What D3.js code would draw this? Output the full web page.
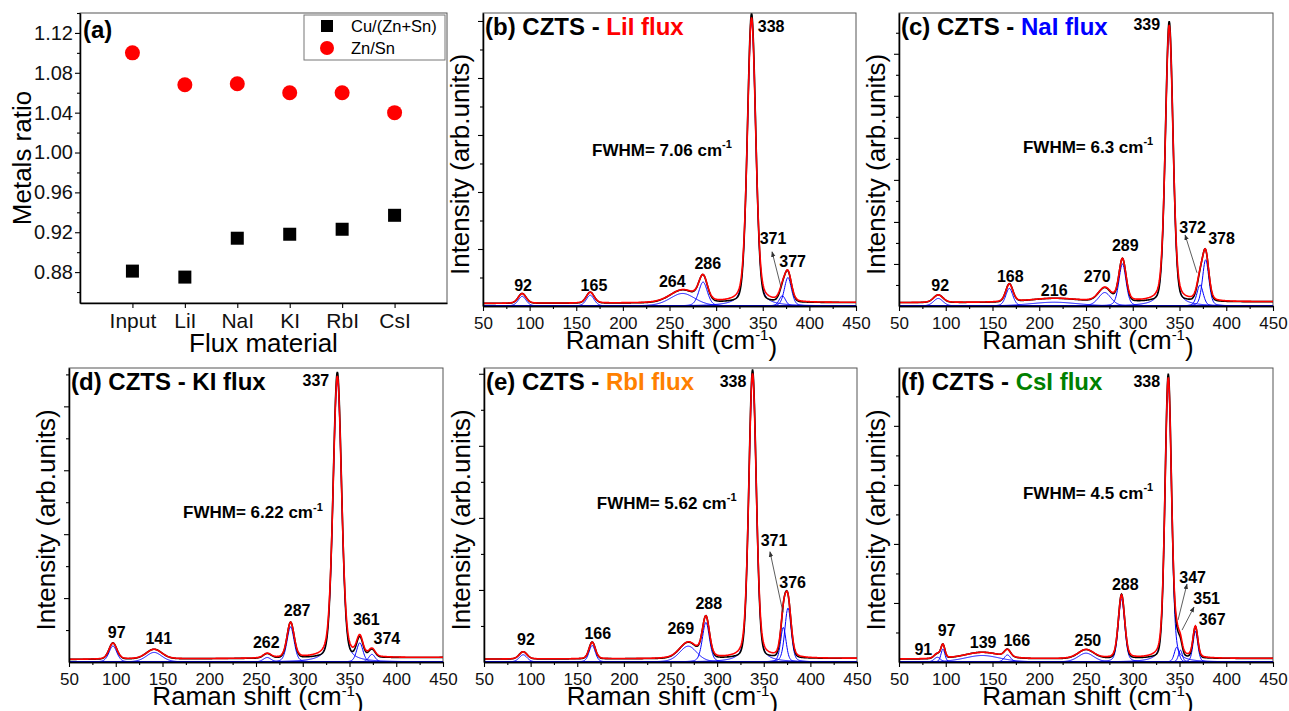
<!DOCTYPE html>
<html>
<head>
<meta charset="utf-8">
<script src="https://cdn.jsdelivr.net/npm/d3@7"></script>
<style>
  body { margin: 0; background: #fff; }
  svg { font-family: "Liberation Sans", Arial, sans-serif; }
</style>
</head>
<body>
<svg id="chart" width="1289" height="711"></svg>
<script>
// ---- (a) metal ratios ----
const categories = ['Input', 'LiI', 'NaI', 'KI', 'RbI', 'CsI']
const cuRatio = [0.881, 0.875, 0.914, 0.918, 0.923, 0.937]
const znRatio = [1.100, 1.068, 1.069, 1.060, 1.060, 1.040]
const ratioTicks = [0.88, 0.92, 0.96, 1.00, 1.04, 1.08, 1.12]

// ---- Raman fits: [centre (cm-1), height, width as drawn] ----
const peaksLiI = [[92, 0.17, 10], [165, 0.19, 10], [264, 0.22, 32], [286, 0.42, 11], [338, 5.0, 10.5], [371, 0.18, 8], [377, 0.5, 9]]
const peaksNaI = [[92, 0.18, 12], [168, 0.42, 9], [216, 0.09, 60], [270, 0.32, 16], [289, 1.0, 9], [339, 6.58, 9.6], [372, 0.5, 8], [378, 1.1, 8]]
const peaksKI = [[97, 0.25, 10], [141, 0.15, 20], [262, 0.07, 10], [287, 0.55, 9], [337, 4.41, 10.7], [361, 0.3, 8], [374, 0.12, 8]]
const peaksRbI = [[92, 0.10, 10], [166, 0.23, 8], [269, 0.22, 22], [288, 0.55, 9], [338, 3.95, 9.5], [371, 0.48, 7], [376, 0.75, 8]]
const peaksCsI = [[91, 0.08, 8], [97, 0.22, 5], [139, 0.11, 45], [166, 0.12, 8], [250, 0.15, 20], [288, 1.07, 8], [338, 4.75, 8.2], [347, 0.25, 6], [351, 0.2, 5], [367, 0.52, 6]]

// background offset at 50 and 450 cm-1
const baseLiI = [0.045, 0.06]
const baseNaI = [0.08, 0.10]
const baseKI = [0.04, 0.07]
const baseRbI = [0.04, 0.05]
const baseCsI = [0.05, 0.06]

// peak labels: [text, x (cm-1), y (intensity)]
const labelsLiI = [['92', 93, 0.37], ['165', 169, 0.37], ['264', 253, 0.44], ['286', 291, 0.74], ['338', 359, 4.91], ['371', 361, 1.18], ['377', 382, 0.79]]
const labelsNaI = [['92', 94, 0.5], ['168', 169, 0.71], ['216', 216, 0.36], ['270', 262, 0.71], ['289', 292, 1.43], ['339', 315, 6.69], ['372', 364, 1.88], ['378', 395, 1.6]]
const labelsKI = [['97', 101, 0.47], ['141', 146, 0.375], ['262', 261, 0.31], ['287', 294, 0.8], ['337', 314, 4.41], ['361', 368, 0.67], ['374', 390, 0.375]]
const labelsRbI = [['92', 95, 0.31], ['166', 172, 0.4], ['269', 261, 0.46], ['288', 291, 0.81], ['338', 317, 3.9], ['371', 361, 1.69], ['376', 381, 1.11]]
const labelsCsI = [['91', 76, 0.22], ['97', 101, 0.53], ['139', 140, 0.34], ['166', 176, 0.37], ['250', 252, 0.37], ['288', 292, 1.31], ['338', 315, 4.76], ['347', 364, 1.44], ['351', 379, 1.08], ['367', 385, 0.73]]

// pointer arrows: [x1, y1, x2, y2] in data units
const arrowsLiI = [[369.6, 0.33, 360, 0.95]]
const arrowsNaI = [[368.7, 0.79, 356, 1.69]]
const arrowsRbI = [[370.6, 0.69, 356.7, 1.53]]
const arrowsCsI = [[348.4, 0.71, 358, 1.32], [352.7, 0.54, 365.5, 0.93]]

const fwhmText = ['7.06', '6.3', '6.22', '5.62', '4.5']
const ramanTicks = [50, 100, 150, 200, 250, 300, 350, 400, 450]

const svg = d3.select('#chart')

svg.append('defs').append('marker')
    .attr('id', 'arrow')
    .attr('viewBox', '0 0 10 10')
    .attr('refX', 9).attr('refY', 5)
    .attr('markerWidth', 7).attr('markerHeight', 7)
    .attr('orient', 'auto')
    .append('path')
    .attr('d', 'M0,1 L10,5 L0,9 Z')
    .attr('fill', '#333')

function styleAxis(g, size) {
    g.selectAll('path').attr('stroke', '#000').attr('stroke-width', 1.3)
    g.selectAll('line').attr('stroke', '#000').attr('stroke-width', 1.1)
    g.selectAll('text').attr('font-size', size).attr('fill', '#111')
        .attr('font-family', '"Liberation Sans", Arial, sans-serif')
}

// ---------- panel (a) ----------
{
    const box = {l: 80, r: 447, t: 13, b: 303}
    const x = d3.scalePoint().domain(categories).range([box.l, box.r]).padding(1)
    const y = d3.scaleLinear().domain([0.849, 1.14]).range([box.b, box.t])

    svg.append('rect')
        .attr('x', box.l).attr('y', box.t)
        .attr('width', box.r - box.l).attr('height', box.b - box.t)
        .attr('fill', 'none').attr('stroke', '#555').attr('stroke-width', 1)

    const minor = ratioTicks.map(t => t + 0.02).concat([0.86])
    svg.append('g').attr('transform', `translate(${box.l},0)`)
        .call(d3.axisLeft(y).tickValues(minor).tickSize(3).tickFormat('').tickSizeOuter(0))
        .call(g => styleAxis(g, 20))
    svg.append('g').attr('transform', `translate(${box.l},0)`)
        .call(d3.axisLeft(y).tickValues(ratioTicks).tickSize(5).tickPadding(2).tickFormat(d3.format('.2f')).tickSizeOuter(0))
        .call(g => styleAxis(g, 20))
    svg.append('g').attr('transform', `translate(0,${box.b})`)
        .call(d3.axisBottom(x).tickSize(5).tickPadding(5).tickSizeOuter(0))
        .call(g => styleAxis(g, 21))

    svg.append('g').selectAll('rect')
        .data(cuRatio)
        .enter().append('rect')
        .attr('x', (d, i) => x(categories[i]) - 6.5)
        .attr('y', d => y(d) - 6.5)
        .attr('width', 13).attr('height', 13)
        .attr('fill', '#000')

    svg.append('g').selectAll('circle')
        .data(znRatio)
        .enter().append('circle')
        .attr('cx', (d, i) => x(categories[i]))
        .attr('cy', d => y(d))
        .attr('r', 7.5)
        .attr('fill', '#ff0000')

    svg.append('text').attr('x', 83).attr('y', 38)
        .attr('font-size', 24).attr('font-weight', 'bold').text('(a)')

    svg.append('text')
        .attr('x', (box.l + box.r) / 2).attr('y', box.b + 49)
        .attr('text-anchor', 'middle').attr('font-size', 26)
        .text('Flux material')

    svg.append('text')
        .attr('transform', `translate(31, ${(box.t + box.b) / 2}) rotate(-90)`)
        .attr('text-anchor', 'middle').attr('font-size', 26)
        .text('Metals ratio')

    // legend
    const lg = svg.append('g')
    lg.append('rect').attr('x', 304).attr('y', 15).attr('width', 141).attr('height', 45)
        .attr('fill', '#fff').attr('stroke', '#777').attr('stroke-width', 1)
    lg.append('rect').attr('x', 321).attr('y', 20).attr('width', 12).attr('height', 12).attr('fill', '#000')
    lg.append('circle').attr('cx', 327).attr('cy', 48).attr('r', 7).attr('fill', '#ff0000')
    lg.append('text').attr('x', 351).attr('y', 26).attr('dy', '0.35em').attr('font-size', 16.5).text('Cu/(Zn+Sn)')
    lg.append('text').attr('x', 351).attr('y', 48).attr('dy', '0.35em').attr('font-size', 16.5).text('Zn/Sn')
}

// ---------- Raman panels ----------
// pseudo-Voigt line shape, eta = Lorentzian share
function voigt(v, p, eta) {
    const u = (v - p[0]) / p[2]
    const lor = 1 / (1 + 4 * u * u)
    const gau = Math.exp(-4 * Math.LN2 * u * u)
    return p[1] * (eta * lor + (1 - eta) * gau)
}
const FIT_ETA = 0.3
const MEAS_ETA = 0.15

const shifts = d3.range(50, 450.001, 0.5)

function drawSpectrum(p) {
    const box = p.box
    const x = d3.scaleLinear().domain([50, 450]).range([box.l, box.r])
    const y = d3.scaleLinear().domain([0, p.yMax]).range([box.b, box.t])
    const base = v => p.base[0] + (p.base[1] - p.base[0]) * (v - 50) / 400

    svg.select('defs').append('clipPath').attr('id', 'clip-' + p.id)
        .append('rect').attr('x', box.l).attr('y', box.t)
        .attr('width', box.r - box.l).attr('height', box.b - box.t)

    svg.append('rect')
        .attr('x', box.l).attr('y', box.t)
        .attr('width', box.r - box.l).attr('height', box.b - box.t)
        .attr('fill', 'none').attr('stroke', '#555').attr('stroke-width', 1)

    const line = d3.line().x(d => x(d[0])).y(d => y(d[1]))
    const plot = svg.append('g').attr('clip-path', `url(#clip-${p.id})`)

    // single components (blue)
    plot.selectAll('path.comp')
        .data(p.peaks)
        .enter().append('path')
        .attr('class', 'comp')
        .attr('d', pk => line(shifts.map(v => [v, voigt(v, pk, FIT_ETA)])))
        .attr('fill', 'none').attr('stroke', '#0000ff').attr('stroke-width', 1)

    // measured spectrum (black)
    const meas = shifts.map(v => [v, base(v) + d3.sum(p.peaks, pk => 1.015 * voigt(v, pk, MEAS_ETA))])
    plot.append('path').datum(meas).attr('d', line)
        .attr('fill', 'none').attr('stroke', '#000').attr('stroke-width', 1.6)

    // cumulative fit (red)
    const fit = shifts.map(v => [v, base(v) + d3.sum(p.peaks, pk => voigt(v, pk, FIT_ETA))])
    plot.append('path').datum(fit).attr('d', line)
        .attr('fill', 'none').attr('stroke', '#ff0000').attr('stroke-width', 1.6)

    // axes
    svg.append('g').attr('transform', `translate(0,${box.b})`)
        .call(d3.axisBottom(x).tickValues(d3.range(75, 450, 50)).tickSize(3).tickFormat('').tickSizeOuter(0))
        .call(g => styleAxis(g, 17))
    svg.append('g').attr('transform', `translate(0,${box.b})`)
        .call(d3.axisBottom(x).tickValues(ramanTicks).tickSize(5).tickPadding(6).tickSizeOuter(0))
        .call(g => styleAxis(g, 17))
    svg.append('g').attr('transform', `translate(${box.l},0)`)
        .call(d3.axisLeft(y).tickValues(d3.range(0.5, p.yMax, 1)).tickSize(3).tickFormat('').tickSizeOuter(0))
        .call(g => styleAxis(g, 17))
    svg.append('g').attr('transform', `translate(${box.l},0)`)
        .call(d3.axisLeft(y).tickValues(d3.range(1, p.yMax, 1)).tickSize(5).tickFormat('').tickSizeOuter(0))
        .call(g => styleAxis(g, 17))

    // axis titles
    const xt = svg.append('text')
        .attr('x', (box.l + box.r) / 2 + 2).attr('y', box.b + 43)
        .attr('text-anchor', 'middle').attr('font-size', 26)
    xt.append('tspan').text('Raman shift (cm')
    xt.append('tspan').attr('font-size', 15).attr('dy', '-0.6em').text('-1')
    xt.append('tspan').attr('dy', '0.6em').text(')')

    svg.append('text')
        .attr('transform', `translate(${box.l - 23}, ${(box.t + box.b) / 2 + 5}) rotate(-90)`)
        .attr('dy', '0.35em')
        .attr('text-anchor', 'middle').attr('font-size', 26)
        .text('Intensity (arb.units)')

    // panel title
    const tt = svg.append('text')
        .attr('x', box.l + 2).attr('y', box.t + 22)
        .attr('font-size', 24).attr('font-weight', 'bold')
    tt.append('tspan').attr('fill', '#000').text(p.title[0])
    tt.append('tspan').attr('fill', p.title[2]).text(p.title[1])

    // FWHM note
    const ft = svg.append('text')
        .attr('x', x(p.fwhmAt[0])).attr('y', y(p.fwhmAt[1])).attr('dy', '0.35em')
        .attr('font-size', 17).attr('font-weight', 'bold')
    ft.append('tspan').text('FWHM= ' + p.fwhm + ' cm')
    ft.append('tspan').attr('font-size', 11).attr('dy', '-0.7em').text('-1')

    // peak labels
    svg.append('g').selectAll('text')
        .data(p.labels)
        .enter().append('text')
        .attr('x', d => x(d[1]))
        .attr('y', d => y(d[2]))
        .attr('dy', '0.35em')
        .attr('text-anchor', 'middle')
        .attr('font-size', 16).attr('font-weight', 'bold')
        .text(d => d[0])

    svg.append('g').selectAll('line')
        .data(p.arrows)
        .enter().append('line')
        .attr('x1', d => x(d[0])).attr('y1', d => y(d[1]))
        .attr('x2', d => x(d[2])).attr('y2', d => y(d[3]))
        .attr('stroke', '#333').attr('stroke-width', 0.8)
        .attr('marker-end', 'url(#arrow)')
}

drawSpectrum({id: 'b', box: {l: 483, r: 856, t: 13, b: 306}, yMax: 5.14,
    peaks: peaksLiI, base: baseLiI, labels: labelsLiI, arrows: arrowsLiI,
    title: ['(b) CZTS - ', 'LiI flux', '#ff0000'], fwhm: fwhmText[0], fwhmAt: [167, 2.74]})
drawSpectrum({id: 'c', box: {l: 899, r: 1273, t: 13, b: 306}, yMax: 6.97,
    peaks: peaksNaI, base: baseNaI, labels: labelsNaI, arrows: arrowsNaI,
    title: ['(c) CZTS - ', 'NaI flux', '#0000ff'], fwhm: fwhmText[1], fwhmAt: [182.6, 3.79]})
drawSpectrum({id: 'd', box: {l: 69, r: 443, t: 368, b: 662}, yMax: 4.6,
    peaks: peaksKI, base: baseKI, labels: labelsKI, arrows: [],
    title: ['(d) CZTS - KI flux', '', '#000'], fwhm: fwhmText[2], fwhmAt: [172, 2.34]})
drawSpectrum({id: 'e', box: {l: 484, r: 857, t: 368, b: 662}, yMax: 4.08,
    peaks: peaksRbI, base: baseRbI, labels: labelsRbI, arrows: arrowsRbI,
    title: ['(e) CZTS - ', 'RbI flux', '#ff8000'], fwhm: fwhmText[3], fwhmAt: [171, 2.21]})
drawSpectrum({id: 'f', box: {l: 899, r: 1273, t: 368, b: 662}, yMax: 4.98,
    peaks: peaksCsI, base: baseCsI, labels: labelsCsI, arrows: arrowsCsI,
    title: ['(f) CZTS - ', 'CsI flux', '#008000'], fwhm: fwhmText[4], fwhmAt: [182.6, 2.86]})
</script>
</body>
</html>
